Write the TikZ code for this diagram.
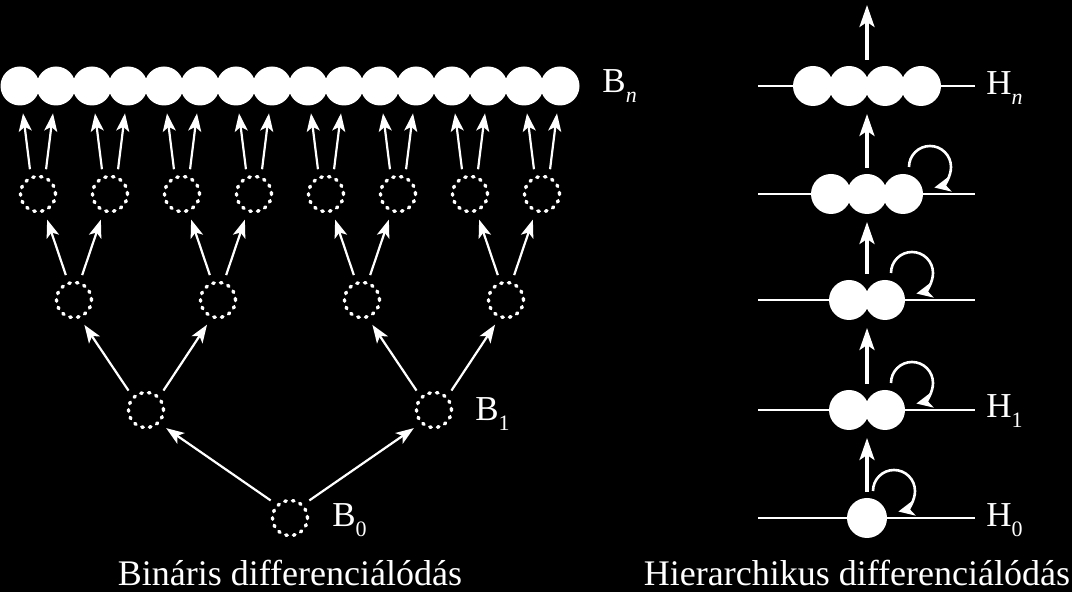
\documentclass[tikz,border=0pt]{standalone}
\usepackage{fontspec}
\setmainfont{Liberation Serif}
\usetikzlibrary{arrows.meta}

% lowered index for the level labels
\newcommand{\subidx}[1]{\raisebox{-4.6pt}{\fontsize{11}{11}\selectfont #1}}

\begin{document}
\begin{tikzpicture}[
    x=0.5pt, y=-0.5pt,
    every node/.style={font=\fontsize{17.5}{20}\selectfont, text=white},
    cell/.style={circle, fill=white, minimum size=19.5pt, inner sep=0pt, outer sep=0pt},
    bigcell/.style={cell, minimum size=20pt},
    dotcell/.style={circle, draw=white, line width=1.7pt, dash pattern=on 0.8pt off 3.1pt, line cap=round, minimum size=17.5pt, inner sep=0pt},
    arrow/.style={-{Stealth[length=9pt, width=6.5pt, inset=2.2pt]}, white, line width=1.1pt, shorten <=3.5pt, shorten >=4pt},
    bigarrow/.style={-{Stealth[length=11pt, width=7.5pt, inset=2.5pt]}, white, line width=1.6pt},
    looparrow/.style={-{Stealth[length=8pt, width=7.5pt, inset=2.2pt]}, white, line width=1.3pt},
    rung/.style={white, line width=1pt},
    lbl/.style={anchor=base west, inner sep=0pt},
    caption/.style={anchor=base, inner sep=0pt, font=\fontsize{18}{20}\selectfont}
]

\fill[black] (0,0) rectangle (1072,592);
\useasboundingbox (0,0) rectangle (1072,592);

% Binary tree (left)
\foreach \i in {1,...,16}
  \node[cell] (t\i) at ({20+36*(\i-1)}, 86) {};
\foreach \i in {1,...,8}
  \node[dotcell] (d\i) at ({38+72*(\i-1)}, 194) {};
\foreach \i in {1,...,4}
  \node[dotcell] (c\i) at ({74+144*(\i-1)}, 300) {};
\node[dotcell] (b1) at (146,410) {};
\node[dotcell] (b2) at (434,410) {};
\node[dotcell] (b0) at (290,518) {};

% Tree arrows
\foreach \i in {1,...,8} {
  \pgfmathtruncatemacro{\ja}{2*\i-1}
  \pgfmathtruncatemacro{\jb}{2*\i}
  \draw[arrow] (d\i.112) -- (t\ja.-84);
  \draw[arrow] (d\i.68) -- (t\jb.-96);
}
\foreach \i in {1,...,4} {
  \pgfmathtruncatemacro{\ja}{2*\i-1}
  \pgfmathtruncatemacro{\jb}{2*\i}
  \draw[arrow] (c\i.108) -- (d\ja.-70);
  \draw[arrow] (c\i.72) -- (d\jb.-110);
}
\draw[arrow] (b1.135) -- (c1.-72);
\draw[arrow] (b1.45) -- (c2.-110);
\draw[arrow] (b2.135) -- (c3.-72);
\draw[arrow] (b2.45) -- (c4.-110);
\draw[arrow] (b0.135) -- (b1.-45);
\draw[arrow] (b0.45) -- (b2.-135);

% Tree labels
\node[lbl] (bnlab) at (602,93) {B\subidx{\itshape n}};
\node[lbl] (b1lab) at (475,421) {B\subidx{1}};
\node[lbl] (b0lab) at (332,527) {B\subidx{0}};

% Hierarchy (right)
\foreach \y [count=\k from 0] in {518,410,300,194,86} {
  \draw[rung] (758,\y) -- (975,\y);
  \coordinate (m\k) at (867,\y);
}
\coordinate (top) at (867,5);

\node[bigcell] (h0) at (867,518) {};
\node[bigcell] (h1a) at (849,410) {};
\node[bigcell] (h1b) at (885,410) {};
\node[bigcell] (h2a) at (849,300) {};
\node[bigcell] (h2b) at (885,300) {};
\foreach \i/\x in {a/831, b/867, c/903}
  \node[bigcell] (h3\i) at (\x,194) {};
\foreach \i/\x in {a/813, b/849, c/885, d/921}
  \node[bigcell] (hn\i) at (\x,86) {};

% Upward arrows
\foreach \a/\b in {m0/m1, m1/m2, m2/m3, m3/m4}
  \draw[bigarrow, shorten <=13pt, shorten >=14pt] (\a) -- (\b);
\draw[bigarrow, shorten <=13pt] (m4) -- (top);

% Turning arrows
\foreach \x/\y [count=\k from 0] in {894/491, 912/383, 912/273, 930/167} {
  \coordinate (turn\k) at (\x,\y);
  \draw[looparrow] (turn\k) ++(-10.5pt,0) arc[start angle=180, end angle=-78, radius=10.5pt];
}

% Hierarchy labels
\node[lbl] (hnlab) at (986,95) {H\subidx{\itshape n}};
\node[lbl] (h1lab) at (986,418) {H\subidx{1}};
\node[lbl] (h0lab) at (986,527) {H\subidx{0}};

% Captions
\node[caption] (bincap) at (290,586) {Bináris differenciálódás};
\node[caption] (hiercap) at (857,586) {Hierarchikus differenciálódás};

\end{tikzpicture}
\end{document}
